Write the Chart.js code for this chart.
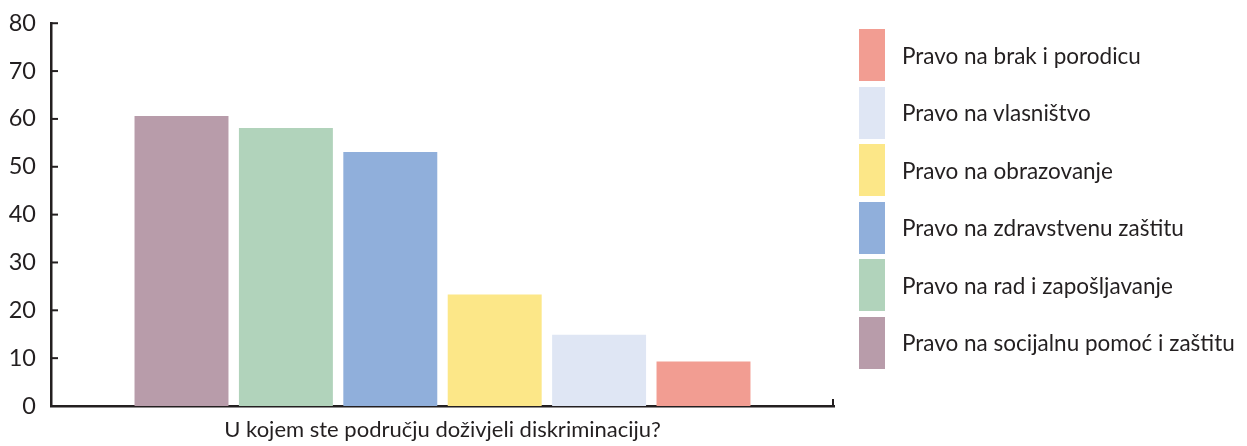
<!DOCTYPE html>
<html>
<head>
<meta charset="utf-8">
<script src="https://cdn.jsdelivr.net/npm/chart.js@4.4.0/dist/chart.umd.min.js"></script>
<style>
  html, body { margin: 0; padding: 0; background: #fff; }
  #wrap { position: relative; width: 1247px; height: 446px; }
  #legend { position: absolute; left: 859px; top: 29px; font-family: Lato, sans-serif; font-size: 22.5px; color: #231f20; }
  .item { display: flex; align-items: center; height: 52px; margin-bottom: 5.6px; }
  .box { width: 26px; height: 52px; margin-right: 17px; }
</style>
</head>
<body>
<div id="wrap">
  <canvas id="chart" width="1247" height="446"></canvas>
  <div id="legend"></div>
</div>
<script>
// Data
const categories = ['U kojem ste području doživjeli diskriminaciju?'];
const seriesNames = [
  'Pravo na socijalnu pomoć i zaštitu',
  'Pravo na rad i zapošljavanje',
  'Pravo na zdravstvenu zaštitu',
  'Pravo na obrazovanje',
  'Pravo na vlasništvo',
  'Pravo na brak i porodicu'
];
const seriesValues = [60.6, 58.1, 53.1, 23.3, 14.9, 9.3];
const colors = ['#b89caa', '#b1d3bb', '#90afdb', '#fce788', '#dfe6f4', '#f29d92'];
const yTicks = [0, 10, 20, 30, 40, 50, 60, 70, 80];

const ink = '#231f20';

// Legend (listed in reverse order, like the original)
const legend = document.getElementById('legend');
for (let i = seriesNames.length - 1; i >= 0; i--) {
  legend.insertAdjacentHTML('beforeend',
    `<div class="item"><div class="box" style="background:${colors[i]}"></div><span>${seriesNames[i]}</span></div>`);
}

// Small inward tick marks
const innerTicks = {
  id: 'innerTicks',
  afterDraw(c) {
    const { ctx, chartArea, scales } = c;
    ctx.save();
    ctx.strokeStyle = ink;
    ctx.lineWidth = 2;
    yTicks.forEach(v => {
      const y = scales.y.getPixelForValue(v);
      ctx.beginPath();
      ctx.moveTo(chartArea.left, y);
      ctx.lineTo(chartArea.left + 7, y);
      ctx.stroke();
    });
    ctx.beginPath();
    ctx.moveTo(chartArea.right - 1, chartArea.bottom);
    ctx.lineTo(chartArea.right - 1, chartArea.bottom - 7);
    ctx.stroke();
    ctx.restore();
  }
};

new Chart(document.getElementById('chart'), {
  type: 'bar',
  data: {
    labels: categories,
    datasets: seriesNames.map((name, i) => ({
      label: name,
      data: [seriesValues[i]],
      backgroundColor: colors[i],
      borderWidth: 0
    }))
  },
  options: {
    responsive: false,
    animation: false,
    layout: { padding: { top: 23, right: 413, left: 0, bottom: 0 } },
    plugins: { legend: { display: false }, tooltip: { enabled: false } },
    scales: {
      x: {
        grid: { display: false, drawTicks: false },
        border: { display: true, color: ink, width: 2.5 },
        ticks: { color: ink, font: { family: 'Lato', size: 22 }, padding: 11 },
        afterFit: s => { s.height = 40; }
      },
      y: {
        min: 0,
        max: 80,
        afterBuildTicks: s => { s.ticks = yTicks.map(v => ({ value: v })); },
        grid: { display: false, drawTicks: false },
        border: { display: true, color: ink, width: 2.5 },
        ticks: { color: ink, font: { family: 'Lato', size: 23.5, lineHeight: 0.7 }, padding: 15 },
        afterFit: s => { s.width = 51; }
      }
    }
  },
  plugins: [innerTicks]
});
</script>
</body>
</html>
